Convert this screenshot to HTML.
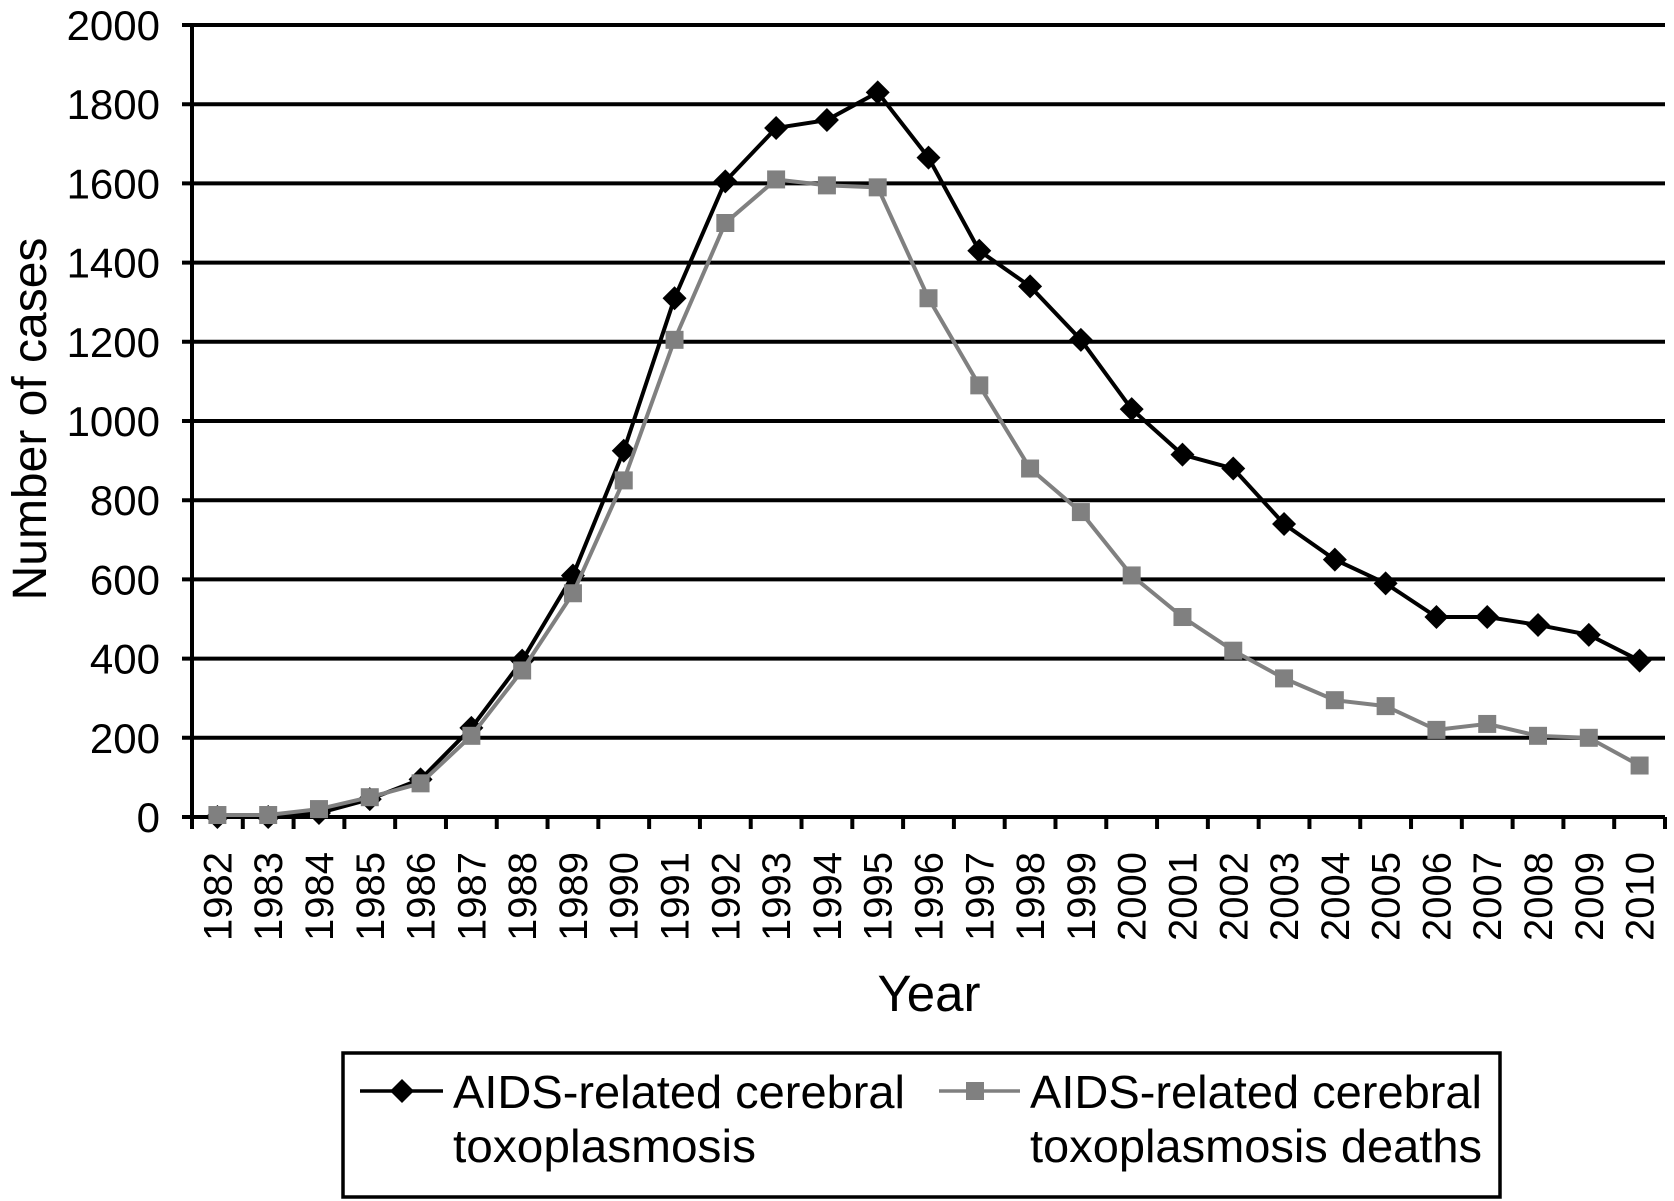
<!DOCTYPE html>
<html><head><meta charset="utf-8"><style>
html,body{margin:0;padding:0;background:#fff;}
svg{display:block;font-family:"Liberation Sans",Arial,sans-serif;}
</style></head><body>
<svg id="chart" width="1674" height="1201" viewBox="0 0 1674 1201" xmlns="http://www.w3.org/2000/svg">
<g id="grid"></g>
<g id="yticks"></g>
<g id="xticks"></g>
<g id="series"></g>
<text x="929" y="1011" font-size="51" text-anchor="middle">Year</text>
<text transform="translate(46,419) rotate(-90)" font-size="48" text-anchor="middle">Number of cases</text>
<g>
<rect x="343" y="1053" width="1157" height="144" fill="#fff" stroke="#000" stroke-width="3.5"/>
<g>
<line x1="360" y1="1091" x2="443" y2="1091" stroke="#000" stroke-width="3.5"/>
<polygon points="402,1079 414,1091 402,1103 390,1091" fill="#000"/>
<text x="453" y="1108" font-size="46" textLength="452" lengthAdjust="spacingAndGlyphs">AIDS-related cerebral</text>
<text x="453" y="1162" font-size="46" textLength="303" lengthAdjust="spacingAndGlyphs">toxoplasmosis</text>
</g>
<g>
<line x1="939" y1="1091" x2="1020" y2="1091" stroke="#808080" stroke-width="3.5"/>
<rect x="966" y="1082" width="18" height="18" fill="#808080"/>
<text x="1030" y="1108" font-size="46" textLength="452" lengthAdjust="spacingAndGlyphs">AIDS-related cerebral</text>
<text x="1030" y="1162" font-size="46" textLength="452" lengthAdjust="spacingAndGlyphs">toxoplasmosis deaths</text>
</g>
</g>
</svg>
<script>
const years = [1982,1983,1984,1985,1986,1987,1988,1989,1990,1991,1992,1993,1994,1995,1996,1997,1998,1999,2000,2001,2002,2003,2004,2005,2006,2007,2008,2009,2010];
const casesValues = [0,0,10,45,95,225,395,610,925,1310,1605,1740,1760,1830,1665,1430,1340,1205,1030,915,880,740,650,590,505,505,485,460,395];
const deathsValues = [5,5,20,50,85,205,370,565,850,1205,1500,1610,1595,1590,1310,1090,880,770,610,505,420,350,295,280,220,235,205,200,130];
const yTicks = [0,200,400,600,800,1000,1200,1400,1600,1800,2000];

const NS = "http://www.w3.org/2000/svg";
const X0 = 192, X1 = 1665, Y0 = 817, Ytop = 25;
const step = (X1 - X0) / years.length;
function xPos(i){ return X0 + step * (i + 0.5); }
function yPos(v){ return Y0 - (v / 2000) * (Y0 - Ytop); }
function mk(tag, attrs, parent){
  const e = document.createElementNS(NS, tag);
  for (const k in attrs) e.setAttribute(k, attrs[k]);
  parent.appendChild(e);
  return e;
}
const grid = document.getElementById('grid');
const yt = document.getElementById('yticks');
const xt = document.getElementById('xticks');
const ser = document.getElementById('series');

yTicks.forEach(v => {
  const y = yPos(v);
  if (v > 0) {
    const g = mk('line', {x1: X0 - 10, y1: y, x2: X1, y2: y, stroke: '#000', 'stroke-width': 4}, grid);
    
    
  }
  const t = mk('text', {x: 160, y: y + 15, 'font-size': 42, 'text-anchor': 'end'}, yt);
  t.textContent = v;
  
  
});
const ya = mk('line', {x1: X0, y1: Ytop - 2, x2: X0, y2: Y0 + 2, stroke: '#000', 'stroke-width': 4}, yt);


const xa = mk('line', {x1: X0 - 10, y1: Y0, x2: X1, y2: Y0, stroke: '#000', 'stroke-width': 4}, xt);


for (let i = 0; i <= years.length; i++) {
  const x = X0 + step * i;
  const tk = mk('line', {x1: x, y1: Y0, x2: x, y2: Y0 + 12, stroke: '#000', 'stroke-width': 4}, xt);
  
  
}
years.forEach((yr, i) => {
  const x = xPos(i) + 14;
  const t = mk('text', {transform: 'translate(' + x + ',852) rotate(-90)', 'font-size': 40, 'text-anchor': 'end'}, xt);
  t.textContent = yr;
  
  
});

function drawSeries(vals, color, marker, name){
  const g = mk('g', {}, ser);
  
  
  const pts = vals.map((v, i) => xPos(i) + ',' + yPos(v)).join(' ');
  const pl = mk('polyline', {points: pts, fill: 'none', stroke: color, 'stroke-width': 4}, g);
  
  
  vals.forEach((v, i) => {
    const x = xPos(i), y = yPos(v);
    let m;
    if (marker === 'diamond') {
      m = mk('polygon', {points: (x)+','+(y-12)+' '+(x+12)+','+y+' '+x+','+(y+12)+' '+(x-12)+','+y, fill: color}, g);
    } else {
      m = mk('rect', {x: x - 9, y: y - 9, width: 18, height: 18, fill: color}, g);
    }
    
    
  });
}
drawSeries(casesValues, '#000', 'diamond', 'cases-series');
drawSeries(deathsValues, '#808080', 'square', 'deaths-series');
</script>
</body></html>
